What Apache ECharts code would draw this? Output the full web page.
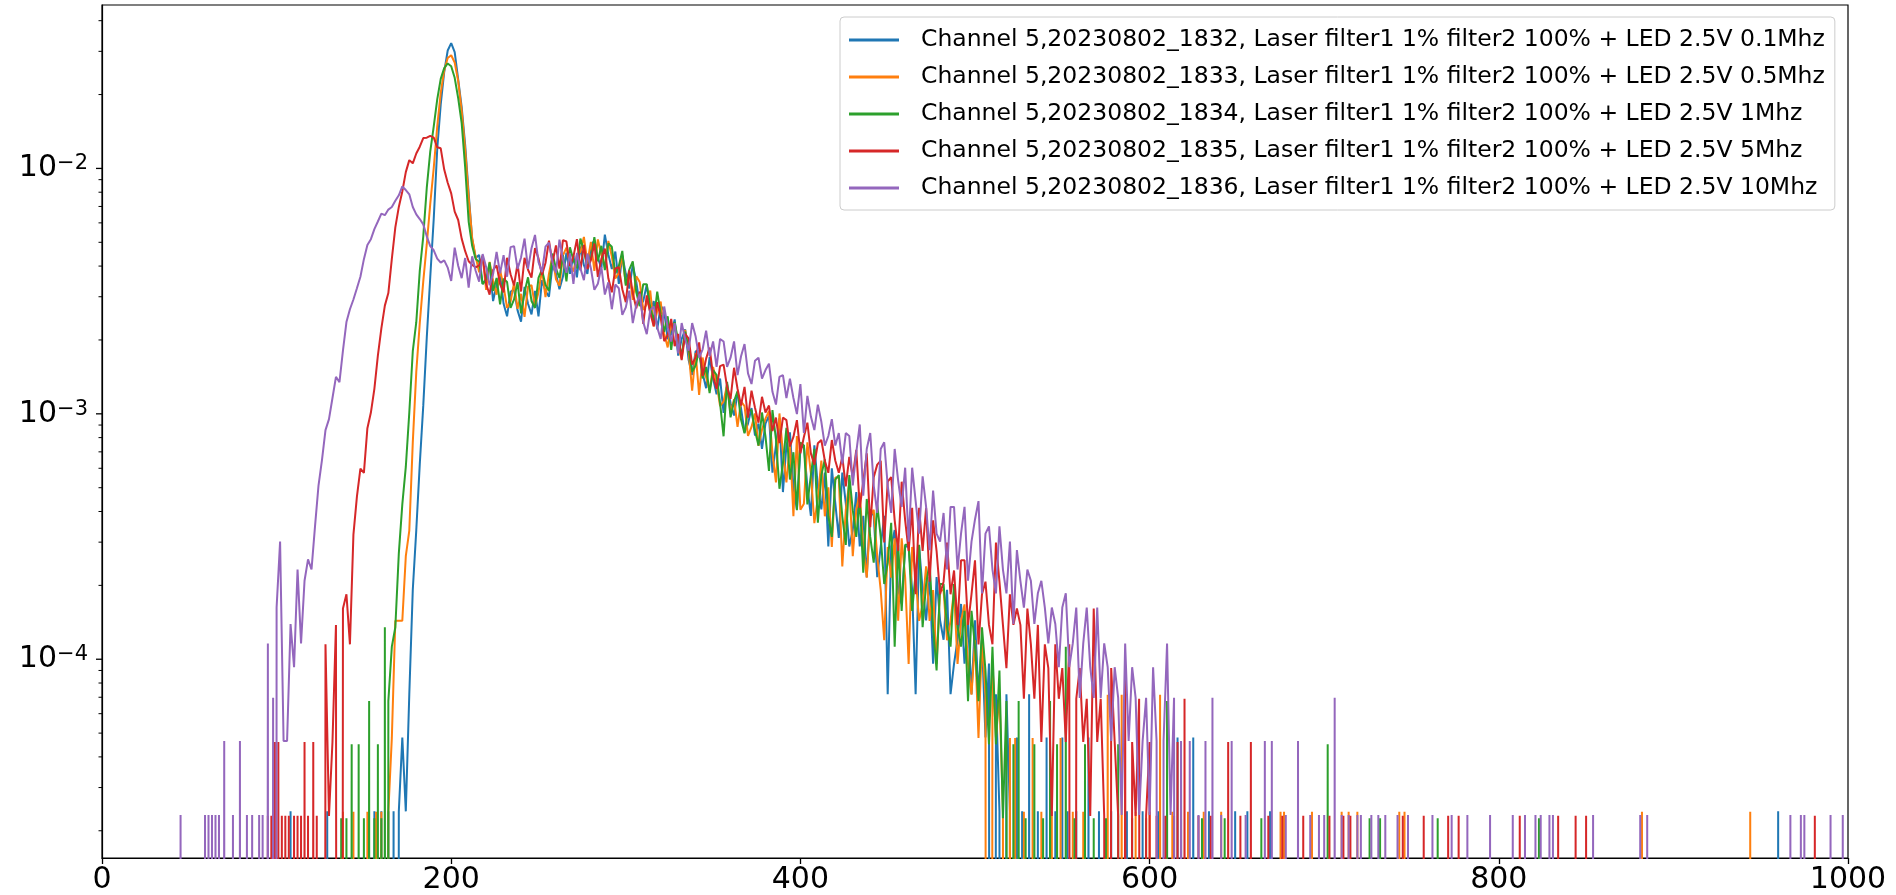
<!DOCTYPE html>
<html>
<head>
<meta charset="utf-8">
<script src="https://cdn.jsdelivr.net/npm/echarts@6/dist/echarts.min.js"></script>
<style>
html,body{margin:0;padding:0;background:#fff;}
#chart{width:1896px;height:895px;}
</style>
</head>
<body>
<div id="chart"></div>
<script>
// ---------------- data (histogram counts per bin, bin width 1) ----------------
const seriesNames = [
  'Channel 5,20230802_1832, Laser filter1 1% filter2 100% + LED 2.5V 0.1Mhz',
  'Channel 5,20230802_1833, Laser filter1 1% filter2 100% + LED 2.5V 0.5Mhz',
  'Channel 5,20230802_1834, Laser filter1 1% filter2 100% + LED 2.5V 1Mhz',
  'Channel 5,20230802_1835, Laser filter1 1% filter2 100% + LED 2.5V 5Mhz',
  'Channel 5,20230802_1836, Laser filter1 1% filter2 100% + LED 2.5V 10Mhz'
];
// density of one count (1 / number of entries) for each run
const densityPerCount = [2.40e-5, 2.39e-5, 2.25e-5, 2.30e-5, 2.32e-5];

// counts read every 2nd bin, starting at the given bin
const blueStart = 170;
const blueCounts = [
1,2,1,3,8,14,26,45,85,150,
260,500,760,1030,1260,1350,1240,960,740,520,
330,215,180,185,141,147,168,120,140,155,
117,104,131,134,110,99,137,117,106,132,
104,146,132,125,168,155,134,151,189,155,
184,150,200,168,155,202,212,180,164,224,
186,162,191,141,184,155,135,169,144,115,
120,140,107,120,92,115,109,84,88,101,
72,84,92,69,60,75,75,61,53,71,
58,50,58,42,55,46,41,51,44,35,
38,44,34,38,30,38,41,24,31,40,
20,31,35,21,17,30,31,21,16,31,
21,17,24,12,25,18,13,24,18,12,
14,20,12,16,9,17,16,9,12,16,
3,12,14,8,7,12,12,8,3,12,
8,6,9,4,9,6,5,8,3,4,
5,7,4,6,3,6,3,5,2,4,
0,3,1,0,3,1];
const blueSpikes = [[108,1],[129,1],[156,1],[160,1],[164,1],[167,1],
[524,2],[527,1],[531,3],[536,1],[541,2],[546,1],[550,2],[553,1],[558,1],[565,2],[571,1],[578,1],[587,1],[596,1],[605,1],[616,2],[625,2],[634,1],[649,1],[656,1],[669,1],[960,1]];

const orangeStart = 162;
const orangeCounts = [
0,1,2,6,6,6,11,14,32,62,
98,145,205,300,420,620,850,1050,1180,1210,
1130,950,720,500,320,218,183,158,183,134,
174,146,128,161,139,113,120,143,112,129,
104,138,140,115,131,161,125,156,184,148,
139,185,199,171,159,186,191,220,173,210,
160,215,186,166,212,183,149,157,184,141,
158,122,152,144,111,117,133,95,110,120,
89,78,97,97,79,70,92,75,52,74,
50,71,59,52,65,56,45,47,55,42,
48,37,47,45,34,37,42,31,36,40,
43,29,22,42,29,22,32,16,34,17,
18,32,24,15,19,27,16,21,12,23,
23,10,17,22,11,17,20,12,9,16,
17,11,8,5,12,9,13,6,13,9,
4,12,9,6,7,10,6,8,4,8,
8,5,6,8,4,6,7,4,3,5,
2,5,3,0,4,2,3,1,0,2];
const orangeSpikes = [[138,1],[144,1],[152,1],[157,1],[160,1],
[523,2],[528,1],[533,2],[538,1],[544,1],[549,2],[556,1],[562,1],[576,3],[584,3],[592,1],[600,1],[606,3],[613,1],[622,1],[631,1],[641,1],[675,1],[677,1],[693,1],[710,1],[714,1],[719,1],[743,1],[746,1],[882,1],[944,1]];

const greenStart = 164;
const greenCounts = [
3,5,6,12,19,27,45,80,105,170,
235,370,520,660,850,1030,1140,1190,1160,1040,
860,680,450,270,215,190,185,150,157,184,
141,159,124,158,153,120,130,153,114,139,
160,128,120,159,172,149,141,200,174,159,
197,154,212,188,174,230,206,174,191,233,
186,215,171,220,213,166,178,205,148,172,
186,139,122,150,150,121,106,140,113,96,
111,81,105,88,77,96,82,66,70,81,
62,69,54,67,64,49,36,60,43,50,
55,42,37,46,46,38,33,45,36,26,
46,35,22,28,39,24,31,18,34,33,
19,25,32,16,25,29,17,14,24,25,
17,13,25,18,14,20,10,20,14,11,
19,14,9,11,16,5,13,7,13,13,
7,10,13,6,9,11,6,4,9,9,
6,5,9,6,5,7,3,7,5,3,
6,4,2,5,2,4,1,3,0,2];
const greenSpikes = [[137,1],[140,1],[143,2],[147,2],[150,1],[153,3],[156,1],[158,2],[160,1],[162,6],
[525,3],[529,1],[534,2],[539,1],[543,3],[547,2],[552,5],[557,1],[563,2],[568,1],[575,1],[582,2],[590,1],[598,1],[610,3],[618,1],[630,1],[643,1],[664,1],[702,2],[726,1],[732,1],[765,1],[823,1]];

const redStart = 126;
const redCounts = [
0,5,1,2,6,0,7,8,5,14,
20,26,25,38,44,55,75,97,120,135,
186,250,303,350,420,470,456,500,533,578,
580,590,580,530,525,430,380,344,290,268,
225,200,182,176,172,175,192,147,133,168,
175,147,136,188,161,145,178,137,188,168,
156,206,187,160,179,221,179,211,170,222,
219,174,190,224,167,212,169,184,215,157,
186,205,155,136,170,172,140,124,167,135,
117,137,101,132,112,99,124,107,86,91,
106,82,92,72,92,88,69,74,85,62,
73,81,62,55,68,69,56,50,67,55,
47,56,42,54,46,40,51,44,47,37,
42,33,42,41,32,35,41,30,35,40,
30,27,33,34,28,25,34,28,25,29,
22,29,24,31,18,23,30,15,24,27,
28,13,23,24,16,12,23,16,12,18,
8,18,12,18,9,16,12,8,9,13,
8,10,6,11,11,6,8,11,5,8,
9,6,5,13,9,6,4,8,6,7,
6,3,7,5,3,6,2,5,4,1,
5,3,4,2,5,0,3,4,2,3,
1,7,2,3,1,0,4,2,1,0,
4,0,2,1,3,0,1,2,0,1];
const redSpikes = [[95,1],[97,1],[99,2],[101,2],[103,1],[105,1],[107,1],[110,1],[112,1],[114,1],[116,2],[118,1],[121,2],[123,1],
[609,1],[614,1],[616,2],[620,3],[628,1],[635,1],[645,2],[652,1],[658,2],[668,1],[676,1],[688,1],[703,1],[711,1],[715,1],[745,1],[757,1],[771,1],[777,1],[812,1],[834,1],[844,1],[850,1],[981,1]];

const purpleStart = 100;
const purpleCounts = [
7,13,2,2,6,4,10,5,9,11,
10,15,22,28,37,41,50,61,58,78,
102,115,126,140,156,184,210,222,244,262,
282,278,293,300,318,335,364,352,338,300,
280,268,255,228,208,200,185,178,182,170,
150,205,173,154,186,141,189,165,149,193,
171,144,160,197,161,191,156,206,208,168,
187,223,168,204,231,179,163,207,215,179,
162,221,184,162,194,146,195,169,151,194,
169,138,146,171,132,148,115,145,140,109,
117,137,101,120,133,102,91,114,118,97,
87,118,97,85,101,76,101,87,78,101,
89,73,79,94,74,85,67,87,85,67,
73,85,62,74,83,63,57,71,73,60,
65,69,53,47,61,62,50,60,50,43,
57,36,51,42,37,47,40,32,35,41,
32,36,27,36,35,22,30,39,20,31,
36,22,17,31,33,22,17,31,23,18,
26,13,26,19,14,24,18,12,21,14,
13,17,10,18,18,10,14,18,9,13,
16,19,8,14,15,10,8,15,10,8,
13,6,12,9,7,10,9,6,8,9,
7,5,7,6,4,7,8,4,5,7,
3,5,7,4,3,7,3,5,4,2,
4,3,1,5,2,4,3,1,2,3,
1,4,2,0,2,5,1,3,0,2];
const purpleSpikes = [[45,1],[59,1],[61,1],[63,1],[65,1],[67,1],[70,2],[75,1],[79,2],[83,1],[86,1],[90,1],[92,1],[95,5],[98,3],
[623,2],[628,1],[632,2],[636,3],[641,1],[647,2],[655,1],[666,2],[670,2],[678,1],[685,2],[692,1],[697,1],[700,1],[706,3],[710,1],[714,1],[719,1],[721,1],[727,1],[731,1],[735,1],[742,1],[748,1],[762,1],[773,1],[782,1],[795,1],[808,1],[815,1],[821,1],[824,1],[829,1],[831,1],[854,1],[881,1],[885,1],[967,1],[973,1],[975,1],[990,1],[997,1]];

// axis ticks
const xTickValues = [0, 200, 400, 600, 800, 1000];
const yMajorTicks = [1e-4, 1e-3, 1e-2];
const yMinorTicks = [2e-5,3e-5,4e-5,5e-5,6e-5,7e-5,8e-5,9e-5,
  2e-4,3e-4,4e-4,5e-4,6e-4,7e-4,8e-4,9e-4,
  2e-3,3e-3,4e-3,5e-3,6e-3,7e-3,8e-3,9e-3,
  2e-2,3e-2,4e-2];

// ---------------- chart ----------------
const Y_MIN = 1.549e-5, Y_MAX = 0.04634;
const ZERO_FLOOR = 1e-20; // empty bins drop below the axis like on a log plot
const colors = ['#1f77b4', '#ff7f0e', '#2ca02c', '#d62728', '#9467bd'];
const FONT = 'DejaVu Sans';

function buildPoints(start, counts, spikes, unit) {
  const pts = counts.map((c, i) => [start + 2 * i, c]);
  spikes.forEach(([x, c]) => { pts.push([x - 1, 0], [x, c], [x + 1, 0]); });
  pts.sort((a, b) => a[0] - b[0]);
  return pts.map(([x, c]) => [x, c > 0 ? c * unit : ZERO_FLOOR]);
}

const runs = [
  [blueStart, blueCounts, blueSpikes],
  [orangeStart, orangeCounts, orangeSpikes],
  [greenStart, greenCounts, greenSpikes],
  [redStart, redCounts, redSpikes],
  [purpleStart, purpleCounts, purpleSpikes]
];

const lineSeries = runs.map((r, i) => ({
  name: seriesNames[i],
  type: 'line',
  data: buildPoints(r[0], r[1], r[2], densityPerCount[i]),
  showSymbol: false,
  symbol: 'none',
  clip: true,
  animation: false,
  silent: true,
  lineStyle: { width: 2, color: colors[i] },
  itemStyle: { color: colors[i] },
  emphasis: { disabled: true },
  z: 2 + i * 0.01
}));

function tickSeries(values, len, width) {
  return {
    type: 'custom',
    silent: true,
    animation: false,
    clip: false,
    data: values.map(v => [0, v]),
    renderItem: function (params, api) {
      const p = api.coord([api.value(0), api.value(1)]);
      return {
        type: 'line',
        shape: { x1: p[0] - len, y1: p[1], x2: p[0], y2: p[1] },
        style: { stroke: '#000', lineWidth: width }
      };
    },
    z: 5
  };
}

const chart = echarts.init(document.getElementById('chart'), null, { renderer: 'canvas' });
chart.setOption({
  animation: false,
  color: colors,
  backgroundColor: '#fff',
  textStyle: { fontFamily: FONT },
  grid: {
    left: 102, top: 5, width: 1746, height: 853,
    show: true, borderColor: '#000', borderWidth: 1.2,
    backgroundColor: 'transparent',
    containLabel: false, outerBoundsMode: 'none'
  },
  legend: {
    data: seriesNames,
    orient: 'vertical',
    left: 840, top: 17,
    padding: [10, 10, 9, 9],
    itemWidth: 50, itemHeight: 3, itemGap: 11,
    icon: 'rect',
    backgroundColor: 'rgba(255,255,255,0.8)',
    borderColor: '#cccccc', borderWidth: 1, borderRadius: 4,
    selectedMode: false,
    textStyle: { fontFamily: FONT, fontSize: 23.5, color: '#000', lineHeight: 26, padding: [0, 0, 0, 17] }
  },
  xAxis: {
    type: 'value',
    min: xTickValues[0], max: xTickValues[xTickValues.length - 1],
    interval: xTickValues[1] - xTickValues[0],
    axisLine: { show: true, onZero: false, lineStyle: { color: '#000', width: 1.2 } },
    axisTick: { show: true, inside: false, length: 6, lineStyle: { color: '#000', width: 1.3 } },
    axisLabel: { fontFamily: FONT, fontSize: 30, color: '#000', margin: 7, formatter: v => String(v) },
    splitLine: { show: false }
  },
  yAxis: {
    type: 'log', logBase: 10,
    min: Y_MIN, max: Y_MAX,
    axisLine: { show: true, lineStyle: { color: '#000', width: 1.2 } },
    axisTick: { show: false },
    minorTick: { show: false },
    splitLine: { show: false },
    axisLabel: {
      margin: 14,
      showMinLabel: false, showMaxLabel: false,
      color: '#000',
      formatter: function (v) {
        const e = Math.round(Math.log10(v));
        return '{b|10}{e|\u2212' + Math.abs(e) + '}';
      },
      rich: {
        b: { fontFamily: FONT, fontSize: 30, lineHeight: 30, color: '#000' },
        e: { fontFamily: FONT, fontSize: 21, lineHeight: 16, verticalAlign: 'top', color: '#000' }
      }
    }
  },
  series: lineSeries.concat([
    tickSeries(yMajorTicks, 6, 1.3),
    tickSeries(yMinorTicks, 3.5, 1)
  ])
});
</script>
</body>
</html>
